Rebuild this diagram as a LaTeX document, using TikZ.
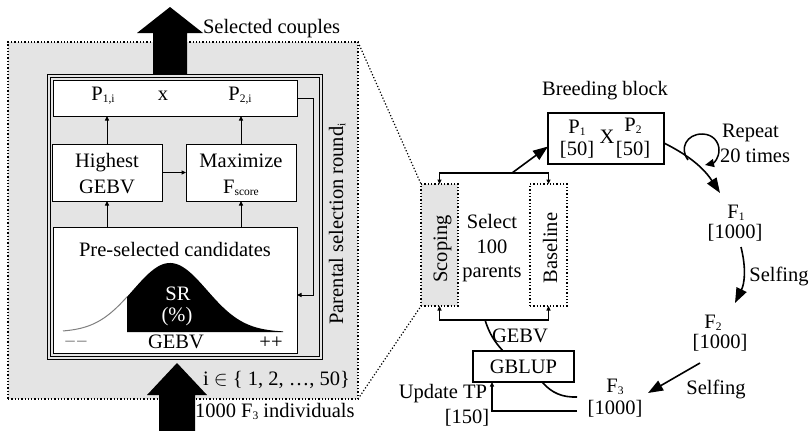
\documentclass[tikz,border=0pt]{standalone}
\usepackage{fontspec}
\setmainfont{Liberation Serif}
\usetikzlibrary{arrows.meta}
\newcommand{\subs}[1]{\raisebox{-0.25ex}{\fontsize{11.5}{12}\selectfont #1}}
\definecolor{panelgray}{RGB}{228,228,228}
\begin{document}
\begin{tikzpicture}[x=1pt,y=-1pt,
  every node/.style={inner sep=0pt, outer sep=0pt, font=\fontsize{20.5}{24}\selectfont},
  box/.style={draw, fill=white, line width=1pt},
  rbox/.style={draw, fill=white, line width=1.3pt},
  dbox/.style={draw, dotted, line width=1.3pt},
  sarr/.style={-{Triangle[length=4.5pt,width=4pt]}, line width=1pt},
  darr/.style={{Triangle[length=4.5pt,width=4pt]}-{Triangle[length=4.5pt,width=4pt]}, line width=1.5pt},
  barr/.style={-{Triangle[length=15pt,width=11pt]}, line width=1.6pt},
  conn/.style={line width=1.6pt},
  lbl/.style={anchor=base},
]
\useasboundingbox (0,0) rectangle (809,431);

% ---------- left panel ----------
\node[dbox, fill=panelgray, minimum width=350pt, minimum height=357pt] (panel) at (183,220.5) {};
\node[draw, double=panelgray, double distance=2pt, line width=1pt, fill=panelgray,
      minimum width=272pt, minimum height=282pt] (frame) at (184.5,216.5) {};

\node[box, minimum width=244pt, minimum height=36pt] (pbox) at (175,98) {};
\node[lbl] (p1) at (103,100) {P\subs{1,i}};
\node[lbl] (px) at (163,100) {x};
\node[lbl] (p2) at (240,100) {P\subs{2,i}};

\node[box, minimum width=110pt, minimum height=57pt] (hg) at (107,172.5) {};
\node[lbl] (hgt1) at (107,167) {Highest};
\node[lbl] (hgt2) at (107,193) {GEBV};

\node[box, minimum width=110pt, minimum height=57pt] (mx) at (241,172.5) {};
\node[lbl] (mxt1) at (241,167) {Maximize};
\node[lbl] (mxt2) at (241,193) {F\subs{score}};

\node[box, minimum width=244pt, minimum height=126pt] (pre) at (175,290) {};
\node[lbl] (pret) at (175,256) {Pre-selected candidates};
\draw[gray, line width=1pt] plot[domain=63:127, samples=40] (\x,{332-69*exp(-0.5*((\x-170)/37)*((\x-170)/37))});
\fill (127,332) -- plot[domain=127:283, samples=80] (\x,{332-69*exp(-0.5*((\x-170)/37)*((\x-170)/37))}) -- (283,332) -- cycle;
\node[lbl, text=white] (sr) at (178,300) {SR};
\node[lbl, text=white] (pct) at (177,321) {(\%)};
\node[lbl] (gebvx) at (176,348) {GEBV};
\node[lbl, text=gray] (mm) at (76,348) {\char"2212\char"2212};
\node[lbl] (pp) at (271,348) {++};

\draw[sarr] (hg.north) -- (hg.north |- pbox.south);
\draw[sarr] (mx.north) -- (mx.north |- pbox.south);
\draw[sarr] (hg.east) -- (mx.west);
\draw[sarr] (pre.north -| hg) -- (hg.south);
\draw[sarr] (pre.north -| mx) -- (mx.south);
\draw[sarr] (pbox.east) -- ++(16,0) |- ([yshift=-5pt]pre.east);

\node[lbl, rotate=90] (psr) at (343,224) {Parental selection round\subs{i}};
\node[anchor=base east] (iset) at (350,385) {i $\in$ \{ 1, 2, …, 50\}};
\node[anchor=base west] (sel) at (203,33) {Selected couples};
\node[anchor=base west] (f3ind) at (195,417) {1000 F\subs{3} individuals};

\fill (153,74) -- (153,33) -- (137,33) -- (170,7) -- (203,33) -- (187,33) -- (187,74) -- cycle;
\fill (159,431) -- (159,395) -- (147,395) -- (177,363) -- (207,395) -- (195,395) -- (195,431) -- cycle;

% ---------- right part ----------
\node[lbl] (bbt) at (605,95) {Breeding block};
\node[rbox, minimum width=116pt, minimum height=51pt] (bbox) at (606,138.5) {};
\node[lbl] (bp1) at (577,133) {P\subs{1}};
\node[lbl] (bn1) at (577,155) {[50]};
\node[lbl] (bx) at (607,143) {X};
\node[lbl] (bp2) at (633,131) {P\subs{2}};
\node[lbl] (bn2) at (633,155) {[50]};

\node[dbox, fill=panelgray, minimum width=37pt, minimum height=122pt] (sc) at (439.5,245) {};
\node[lbl, rotate=90] (sct) at (447,249) {Scoping};
\node[dbox, fill=white, minimum width=37pt, minimum height=122pt] (bl) at (548.5,245) {};
\node[lbl, rotate=90] (blt) at (557,248) {Baseline};
\node[lbl] (s1) at (492,228) {Select};
\node[lbl] (s2) at (492,253) {100};
\node[lbl] (s3) at (492,277) {parents};

\draw[dotted, line width=1.2pt] (panel.north east) -- (sc.north west);
\draw[dotted, line width=1.2pt] (panel.south east) -- (sc.south west);

\coordinate (tj) at (512,173);
\draw[darr] (sc.north) -- (sc.north |- tj) -- (bl.north |- tj) -- (bl.north);
\draw[barr] (tj) -- ([yshift=-8pt]bbox.west);

\coordinate (bj) at (485,320);
\draw[darr] (sc.south) -- (sc.south |- bj) -- (bl.south |- bj) -- (bl.south);
\node[rbox, minimum width=101pt, minimum height=31pt] (gb) at (523.5,366.5) {};
\node[lbl] (gbt) at (523.5,373) {GBLUP};
\draw[conn] ([xshift=-20.5pt]gb.north) to[bend left=12] (bj);
\node[lbl] (gebvr) at (520,342) {GEBV};

\node[lbl] (f3a) at (615,392) {F\subs{3}};
\node[lbl] (f3b) at (615,414) {[1000]};
\coordinate (f3in) at (577,397);
\coordinate (f3out) at (577,411);
\draw[conn] ([xshift=18.5pt]gb.south) to[bend right=25] (f3in);
\draw[sarr, line width=1.5pt] (f3out) -| ([xshift=-31.5pt]gb.south);
\node[anchor=base east] (utp) at (487,398) {Update TP};
\node[lbl] (tp150) at (467,423) {[150]};

\node[lbl] (f1a) at (736,218) {F\subs{1}};
\node[lbl] (f1b) at (735,238) {[1000]};
\coordinate (f1in) at (720,193);
\coordinate (f1out) at (741,247);
\draw[barr] ([yshift=-4.5pt]bbox.east) to[bend left=15] (f1in);
\coordinate (lp) at (688,160);
\coordinate (lpend) at (705,165);
\draw[-{Triangle[length=9pt,width=8pt]}, line width=1.5pt]
  (lp) .. controls (679,148) and (687,134) .. (702,134)
       .. controls (713,134) and (719,142) .. (719,150)
       .. controls (719,158) and (714,163) .. (lpend);
\node[anchor=base west] (rep1) at (722,137) {Repeat};
\node[anchor=base west] (rep2) at (720,162) {20 times};

\node[lbl] (f2a) at (713,328) {F\subs{2}};
\node[lbl] (f2b) at (720,348) {[1000]};
\coordinate (f2in) at (735,303);
\coordinate (f2out) at (700,363);
\coordinate (f3top) at (648,393);
\draw[barr] (f1out) to[bend left=20] (f2in);
\node[lbl] (self1) at (779,281) {Selfing};
\draw[barr] (f2out) -- (f3top);
\node[lbl] (self2) at (716,394) {Selfing};
\end{tikzpicture}
\end{document}
